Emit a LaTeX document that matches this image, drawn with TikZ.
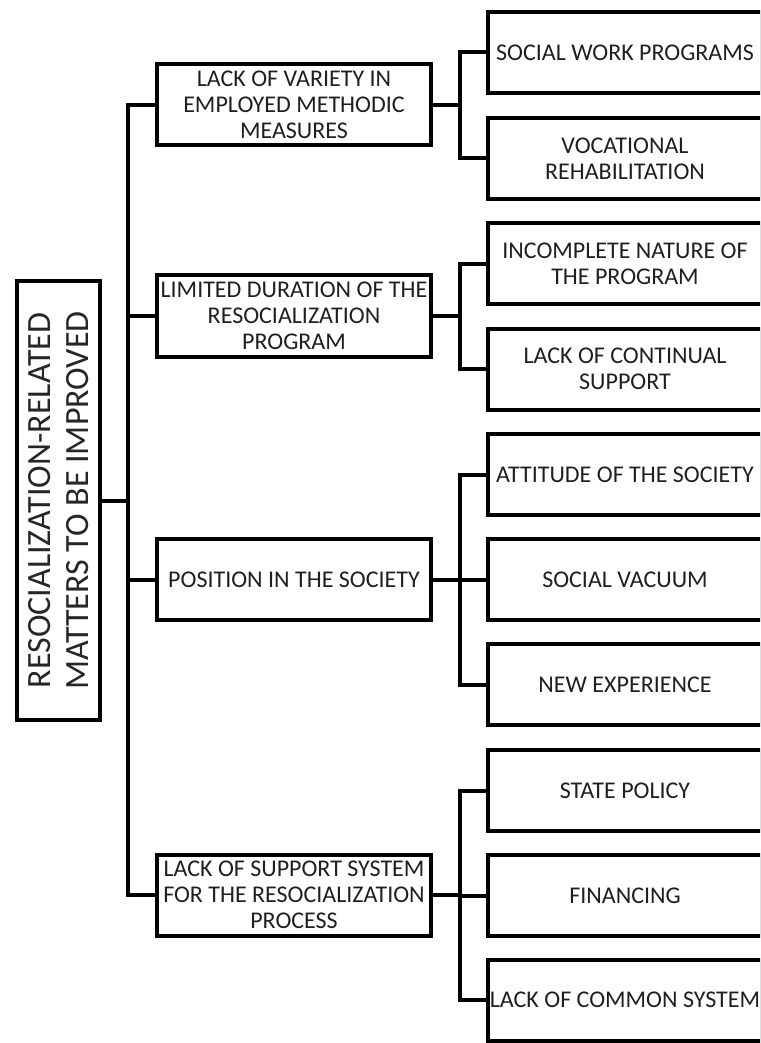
\documentclass[tikz,border=0pt]{standalone}
\usepackage{fontspec}
\setmainfont{Carlito}
\begin{document}
\begin{tikzpicture}[x=1pt,y=-1pt,
  box/.style={draw=black,line width=4pt,rectangle,inner sep=0pt,align=center,
    minimum width=274pt,minimum height=81pt,text=black!88,font=\fontsize{24}{26}\selectfont},
  rootbox/.style={draw=black,line width=4pt,rectangle,inner sep=0pt,
    minimum width=83pt,minimum height=439pt},
  link/.style={line width=4pt,line join=miter}]
\useasboundingbox (0,0) rectangle (760,1043);
\clip (0,0) rectangle (760,1043);
% root
\node[rootbox] (root) at (58.5,500.5) {};
\node[rotate=90,align=center,text=black!85,font=\fontsize{34}{38}\selectfont,inner sep=0pt] (roottext) at (root.center)
  {RESOCIALIZATION-RELATED\\MATTERS TO BE IMPROVED};
% level 1
\node[box] (L1a) at (294,105) {LACK OF VARIETY IN\\EMPLOYED METHODIC\\MEASURES};
\node[box,minimum height=82pt] (L1b) at (294,316) {LIMITED DURATION OF THE\\RESOCIALIZATION\\PROGRAM};
\node[box] (L1c) at (294,579.5) {POSITION IN THE SOCIETY};
\node[box] (L1d) at (294,895) {LACK OF SUPPORT SYSTEM\\FOR THE RESOCIALIZATION\\PROCESS};
% level 2
\node[box] (L2a) at (625,52.5) {SOCIAL WORK PROGRAMS};
\node[box] (L2b) at (625,158.5) {VOCATIONAL\\REHABILITATION};
\node[box] (L2c) at (625,263.5) {INCOMPLETE NATURE OF\\THE PROGRAM};
\node[box] (L2d) at (625,369) {LACK OF CONTINUAL\\SUPPORT};
\node[box] (L2e) at (625,474.5) {ATTITUDE OF THE SOCIETY};
\node[box] (L2f) at (625,579.5) {SOCIAL VACUUM};
\node[box] (L2g) at (625,684.5) {NEW EXPERIENCE};
\node[box] (L2h) at (625,790.5) {STATE POLICY};
\node[box] (L2i) at (625,895.5) {FINANCING};
\node[box] (L2j) at (625,1000) {LACK OF COMMON SYSTEM};
% connectors root -> level 1
\foreach \n in {L1a,L1b,L1c,L1d}
  \draw[link] (root.east) -- ++(26,0) |- (\n.west);
% connectors level 1 -> level 2
\foreach \n in {L2a,L2b} \draw[link] (L1a.east) -- ++(27,0) |- (\n.west);
\foreach \n in {L2c,L2d} \draw[link] (L1b.east) -- ++(27,0) |- (\n.west);
\foreach \n in {L2e,L2f,L2g} \draw[link] (L1c.east) -- ++(27,0) |- (\n.west);
\foreach \n in {L2h,L2i,L2j} \draw[link] (L1d.east) -- ++(27,0) |- (\n.west);
\end{tikzpicture}
\end{document}
